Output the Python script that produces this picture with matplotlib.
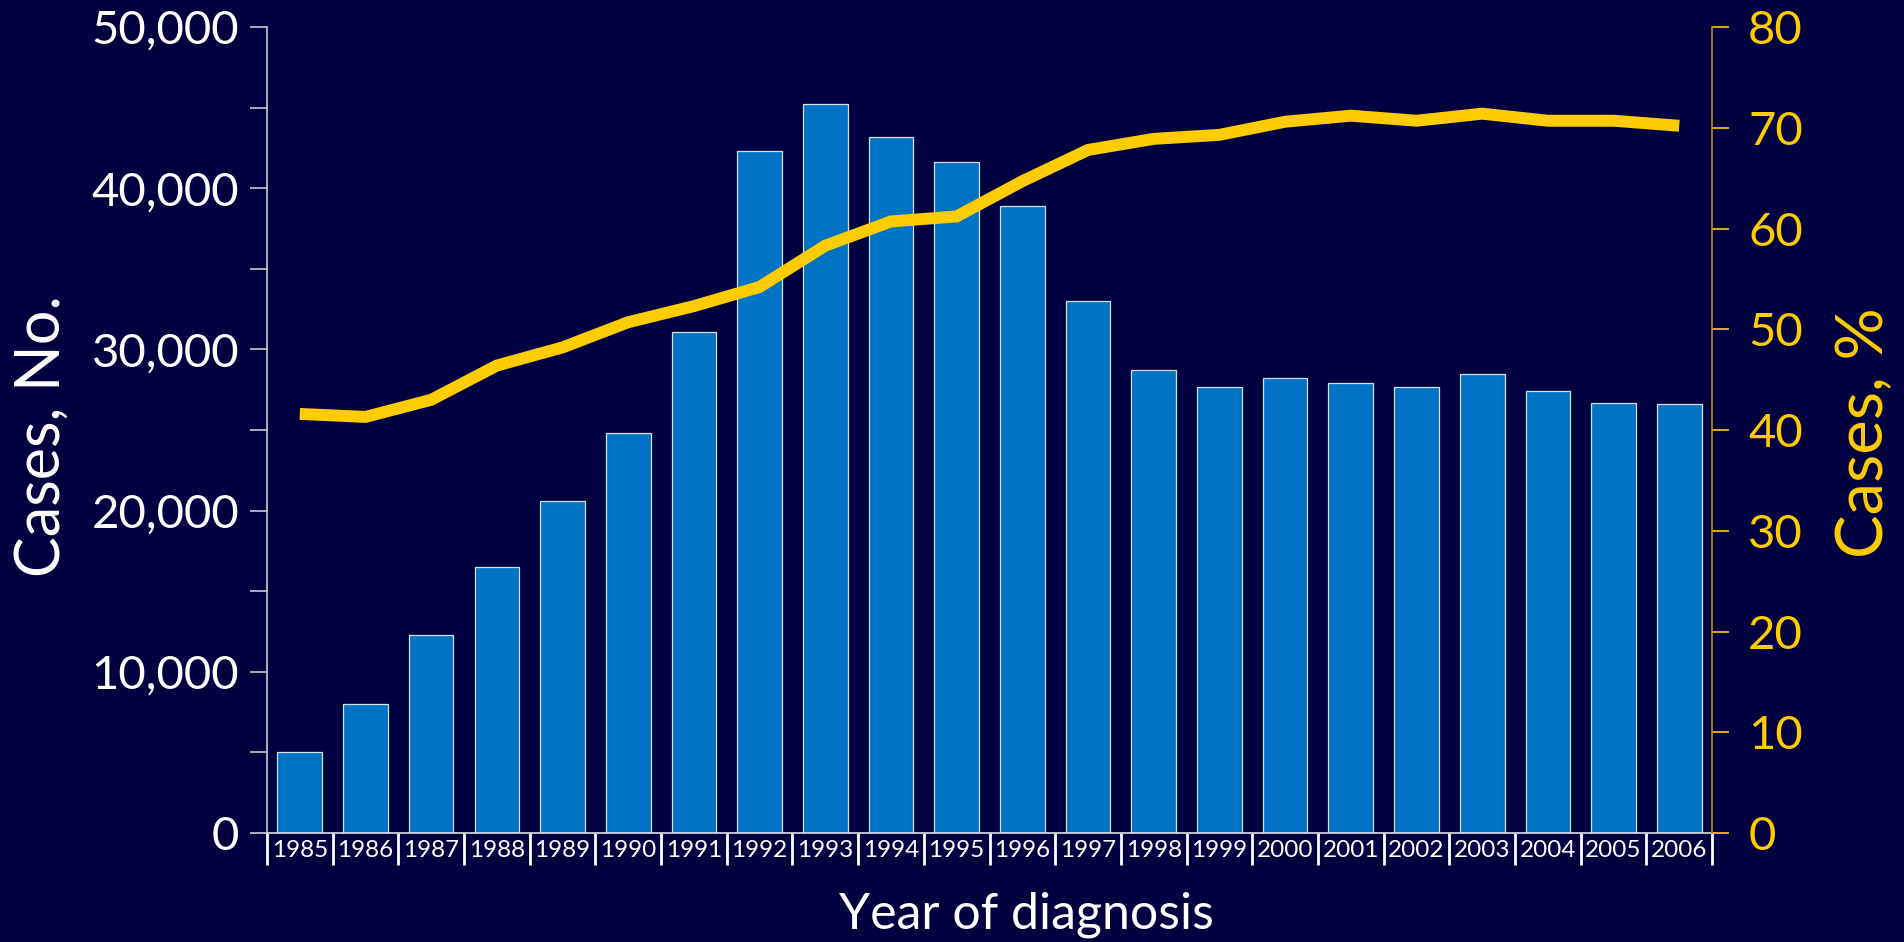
import matplotlib
matplotlib.use('Agg')
import matplotlib.pyplot as plt
import numpy as np

# ── Datos ──────────────────────────────────────────────────────────────
years = [str(y) for y in range(1985, 2007)]
cases = [5000, 8000, 12300, 16500, 20600, 24800, 31100, 42300, 45200, 43200,
         41600, 38900, 33000, 28700, 27700, 28200, 27900, 27700, 28500, 27400,
         26700, 26600]
pct = [41.6, 41.3, 43.0, 46.4, 48.2, 50.7, 52.3, 54.2, 58.3, 60.7, 61.2,
       64.7, 67.8, 68.9, 69.3, 70.6, 71.2, 70.7, 71.4, 70.7, 70.7, 70.2]

left_ticks = [0, 10000, 20000, 30000, 40000, 50000]
left_ticklabels = ['0', '10,000', '20,000', '30,000', '40,000', '50,000']
right_ticks = [0, 10, 20, 30, 40, 50, 60, 70, 80]

# ── Estilo ─────────────────────────────────────────────────────────────
BG = '#000040'
BAR = '#0073C4'
YEL = '#FFCC00'
plt.rcParams['font.family'] = ['Lato', 'DejaVu Sans']

fig = plt.figure(figsize=(19.04, 9.42), dpi=100, facecolor=BG)
ax = fig.add_axes([0.1402, 0.1157, 0.7590, 0.8556])
ax.set_facecolor(BG)
x = np.arange(len(years))

ax.bar(x, cases, width=0.68, color=BAR, edgecolor='#D8E0EE', linewidth=0.9)
ax.set_xlim(-0.5, len(years) - 0.5)
ax.set_ylim(0, 50000)
ax.set_yticks(left_ticks)
ax.set_yticklabels(left_ticklabels)
ax.set_yticks(np.arange(5000, 50000, 10000), minor=True)
ax.tick_params(axis='y', which='both', colors='#C8C8D4', length=12, width=1.2,
               labelsize=34, labelcolor='white', pad=8)

ax.set_xticks(x)
ax.set_xticklabels(years)
ax.set_xticks(np.arange(-0.5, len(years)), minor=True)
ax.tick_params(axis='x', which='major', length=0, labelsize=17.5,
               labelcolor='white', pad=5)
ax.tick_params(axis='x', which='minor', length=23, width=2, color='white')

for s in ['top', 'right']:
    ax.spines[s].set_visible(False)
ax.spines['left'].set_color('#C8C8D4')
ax.spines['left'].set_linewidth(1.2)
ax.spines['bottom'].set_color('#E0E0E8')
ax.spines['bottom'].set_linewidth(1.2)

# ── Eje derecho: porcentaje ────────────────────────────────────────────
ax2 = ax.twinx()
ax2.plot(x, pct, color=YEL, linewidth=8.6, solid_capstyle='butt',
         solid_joinstyle='miter')
ax2.set_ylim(0, 80)
ax2.set_yticks(right_ticks)
ax2.tick_params(axis='y', colors=YEL, length=12, width=1.2, labelsize=34,
                labelcolor=YEL, pad=14)
for s in ['top', 'left', 'bottom']:
    ax2.spines[s].set_visible(False)
ax2.spines['right'].set_color('#B8900A')
ax2.spines['right'].set_linewidth(1.2)

# ── Etiquetas ──────────────────────────────────────────────────────────
fig.text(42 / 1904, 1 - 436 / 942, 'Cases, No.', rotation=90, color='white',
         fontsize=44, ha='center', va='center')
fig.text(1865 / 1904, 1 - 433 / 942, 'Cases, %', rotation=90, color=YEL,
         fontsize=47, ha='center', va='center')
fig.text(1026 / 1904, 1 - 915 / 942, 'Year of diagnosis', color='white',
         fontsize=36, ha='center', va='center')

plt.savefig('out.png', dpi=100, facecolor=BG)
plt.close()
